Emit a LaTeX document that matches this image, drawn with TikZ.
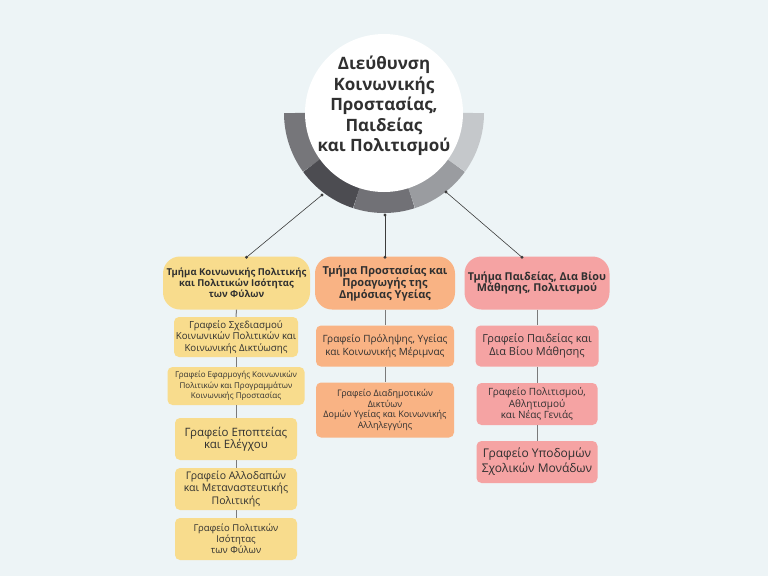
\documentclass[tikz,border=0pt]{standalone}
\usepackage{fontspec}
\setmainfont{Open Sans}
\definecolor{bg}{HTML}{EDF4F6}
\definecolor{yel}{HTML}{F8DC8D}
\definecolor{ora}{HTML}{F9B384}
\definecolor{pnk}{HTML}{F5A3A3}
\definecolor{txt}{HTML}{303030}
\definecolor{linkc}{HTML}{3C3C3C}
\definecolor{stemc}{HTML}{7A7A7A}
\definecolor{ringa}{HTML}{76767A}
\definecolor{ringb}{HTML}{4C4C51}
\definecolor{ringc}{HTML}{717176}
\definecolor{ringd}{HTML}{9A9CA0}
\definecolor{ringe}{HTML}{C5C8CB}
\newcommand\fsz[2]{\fontsize{#1}{#2}\selectfont}
\tikzset{
  dept/.style={rounded corners=17pt, minimum height=53pt, align=center, text=txt, inner sep=1pt},
  office/.style={rounded corners=5pt, align=center, text=txt, inner sep=1pt},
  link/.style={draw=linkc, line width=0.6pt},
  dot/.style={fill=linkc},
  stem/.style={draw=stemc, line width=1pt}
}
\begin{document}
\begin{tikzpicture}[x=1pt,y=-1pt]
\useasboundingbox (0,0) rectangle (768,576);
\fill[bg] (0,0) rectangle (768,576);

\coordinate (hub) at (384,113);
\foreach \a/\col in {180/ringa,216/ringb,252/ringc,288/ringd,324/ringe}{
\draw[line width=22pt,draw=\col] ([shift={(\a:89pt)}]hub) arc[start angle=\a, delta angle=36, radius=89pt];
}
\node[circle, fill=white, minimum size=158pt, inner sep=0pt] (head) at (hub) {};
\node[align=center, text=txt, font=\bfseries\fsz{17}{20.5}] (headtxt) at (384,106)
  {Διεύθυνση\\Κοινωνικής\\Προστασίας,\\Παιδείας\\και Πολιτισμού};

\node[dept, fill=yel, minimum width=147pt, font=\bfseries\fsz{9.5}{11}] (dA) at (236.5,283)
  {Τμήμα Κοινωνικής Πολιτικής\\και Πολιτικών Ισότητας\\των Φύλων};
\node[dept, fill=ora, minimum width=140pt, font=\bfseries\fsz{11}{12}] (dB) at (385,283)
  {Τμήμα Προστασίας και\\Προαγωγής της\\Δημόσιας Υγείας};
\node[dept, fill=pnk, minimum width=145pt, font=\bfseries\fsz{10.8}{11.5}] (dC) at (537,283)
  {Τμήμα Παιδείας, Δια Βίου\\Μάθησης, Πολιτισμού};

\node[office, fill=yel, minimum width=124pt, minimum height=40pt, font=\fsz{9.7}{11.3}] (a1) at (236,337)
  {Γραφείο Σχεδιασμού\\Κοινωνικών Πολιτικών και\\Κοινωνικής Δικτύωσης};
\node[office, fill=yel, minimum width=137pt, minimum height=38pt, font=\fsz{8}{10.3}] (a2) at (236,386)
  {Γραφείο Εφαρμογής Κοινωνικών\\Πολιτικών και Προγραμμάτων\\Κοινωνικής Προστασίας};
\node[office, fill=yel, minimum width=122pt, minimum height=42pt, font=\fsz{11.5}{12.5}] (a3) at (236,439)
  {Γραφείο Εποπτείας\\και Ελέγχου};
\node[office, fill=yel, minimum width=122pt, minimum height=42pt, font=\fsz{10.5}{12.8}] (a4) at (236,489)
  {Γραφείο Αλλοδαπών\\και Μεταναστευτικής\\Πολιτικής};
\node[office, fill=yel, minimum width=122pt, minimum height=42pt, font=\fsz{9.5}{10.8}] (a5) at (236,539)
  {Γραφείο Πολιτικών\\Ισότητας\\των Φύλων};

\node[office, fill=ora, minimum width=138pt, minimum height=41pt, font=\fsz{10}{12.7}] (b1) at (385,346)
  {Γραφείο Πρόληψης, Υγείας\\και Κοινωνικής Μέριμνας};
\node[office, fill=ora, minimum width=138pt, minimum height=55pt, font=\fsz{9}{10.8}] (b2) at (385,410)
  {Γραφείο Διαδημοτικών\\Δικτύων\\Δομών Υγείας και Κοινωνικής\\Αλληλεγγύης};

\node[office, fill=pnk, minimum width=123pt, minimum height=41pt, font=\fsz{11}{13.3}] (c1) at (537,346)
  {Γραφείο Παιδείας και\\Δια Βίου Μάθησης};
\node[office, fill=pnk, minimum width=121pt, minimum height=42pt, font=\fsz{10}{11.7}] (c2) at (537,404)
  {Γραφείο Πολιτισμού,\\Αθλητισμού\\και Νέας Γενιάς};
\node[office, fill=pnk, minimum width=121pt, minimum height=42pt, font=\fsz{12}{15}] (c3) at (537,462)
  {Γραφείο Υποδομών\\Σχολικών Μονάδων};

\foreach \u/\v in {dA/a1,a1/a2,a2/a3,a3/a4,a4/a5,dB/b1,b1/b2,dC/c1,c1/c2,c2/c3}{
\draw[stem] (\u.south) -- (\v.north);
}

\coordinate (ringL) at (322,195);
\coordinate (ringM) at (385,215);
\coordinate (ringR) at (446,192);
\coordinate (topA) at ([xshift=10pt,yshift=-1pt]dA.north);
\coordinate (topB) at ([yshift=-1pt]dB.north);
\coordinate (topC) at ([xshift=-15pt,yshift=-1pt]dC.north);
\foreach \p/\q in {ringL/topA,ringM/topB,ringR/topC}{
\draw[link] (\p) -- (\q);
\fill[dot] (\p) circle (1.6pt) (\q) circle (1.6pt);
}
\end{tikzpicture}
\end{document}
